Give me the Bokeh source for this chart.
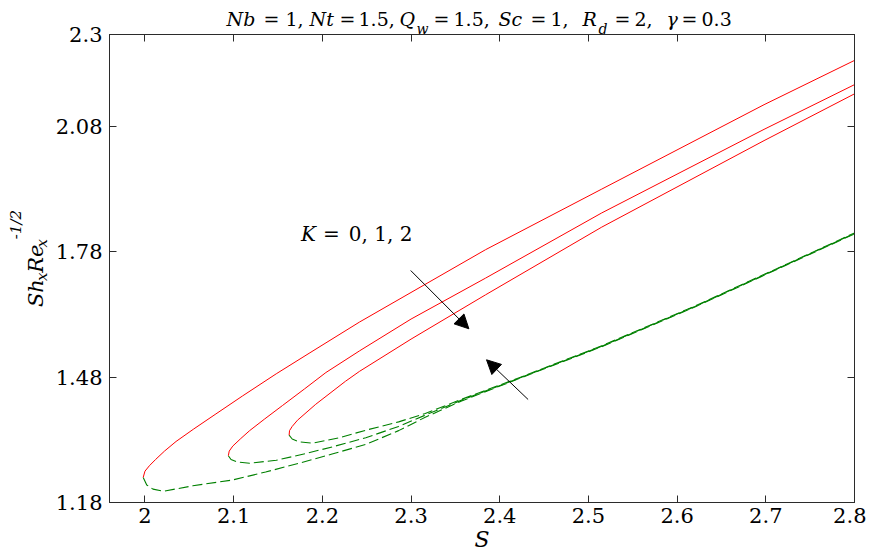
import math
from bokeh.plotting import figure
from bokeh.layouts import column, row
from bokeh.models import Range1d, FixedTicker, LinearAxis, Label, Arrow, NormalHead
from bokeh.embed import file_html
from bokeh.resources import INLINE

# ---------------- data ----------------
x_ticks = [2.0, 2.1, 2.2, 2.3, 2.4, 2.5, 2.6, 2.7, 2.8]
x_tick_labels = ["2", "2.1", "2.2", "2.3", "2.4", "2.5", "2.6", "2.7", "2.8"]
y_ticks = [1.18, 1.48, 1.78, 2.08, 2.3]
y_tick_labels = ["1.18", "1.48", "1.78", "2.08", "2.3"]

# K = 0 : first (upper, solid red) and second (lower, dashed green) branch
s_up_k0 = [1.998, 2.000, 2.005, 2.012, 2.022, 2.035, 2.055, 2.080, 2.110, 2.148, 2.185, 2.242,
           2.384, 2.515, 2.698, 2.800]
y_up_k0 = [1.240, 1.255, 1.268, 1.283, 1.303, 1.326, 1.356, 1.392, 1.435, 1.488, 1.537, 1.612,
           1.785, 1.930, 2.132, 2.238]
s_lo_k0 = [1.998, 2.002, 2.009, 2.021, 2.054, 2.099, 2.136, 2.174, 2.211, 2.249, 2.286, 2.316,
           2.357, 2.415, 2.515, 2.620, 2.724, 2.800]
y_lo_k0 = [1.240, 1.222, 1.212, 1.207, 1.220, 1.234, 1.253, 1.274, 1.296, 1.319, 1.352, 1.384,
           1.423, 1.471, 1.553, 1.648, 1.749, 1.823]

# K = 1
s_up_k1 = [2.094, 2.095, 2.099, 2.108, 2.118, 2.135, 2.155, 2.180, 2.204, 2.242, 2.300, 2.384,
           2.515, 2.698, 2.800]
y_up_k1 = [1.292, 1.303, 1.315, 1.333, 1.352, 1.380, 1.412, 1.452, 1.491, 1.543, 1.619, 1.717,
           1.873, 2.073, 2.180]
s_lo_k1 = [2.094, 2.097, 2.104, 2.118, 2.148, 2.181, 2.211, 2.249, 2.286, 2.316, 2.357, 2.415,
           2.515, 2.620, 2.724, 2.800]
y_lo_k1 = [1.292, 1.283, 1.277, 1.274, 1.281, 1.297, 1.313, 1.335, 1.362, 1.389, 1.425, 1.472,
           1.554, 1.649, 1.750, 1.824]

# K = 2
s_up_k2 = [2.1625, 2.163, 2.166, 2.172, 2.1925, 2.226, 2.242, 2.300, 2.384, 2.515, 2.698, 2.800]
y_up_k2 = [1.341, 1.352, 1.362, 1.377, 1.415, 1.470, 1.494, 1.571, 1.677, 1.839, 2.046, 2.158]
s_lo_k2 = [2.1625, 2.166, 2.174, 2.189, 2.219, 2.249, 2.286, 2.316, 2.357, 2.415, 2.515, 2.620,
           2.724, 2.800]
y_lo_k2 = [1.341, 1.332, 1.325, 1.322, 1.335, 1.353, 1.373, 1.393, 1.427, 1.473, 1.555, 1.650,
           1.751, 1.825]

# arrows (data coordinates): direction of increasing K
arrow_up_branch = (2.2996, 1.7352, 2.3652, 1.5957)
arrow_lo_branch = (2.4320, 1.4265, 2.3851, 1.5215)

# ---------------- layout (page pixels) ----------------
X0, X1 = 1.96, 2.80
Y0, Y1 = 1.18, 2.30
PAGE_W = 866
TITLE_H = 40
YLAB_W = 52
MAIN_H = 558
FL, FR, FT, FB = 107, 854, 34, 502   # plot frame edges in page pixels

FONT = "DejaVu Serif"
AX = "#2b2b2b"
RED = "#ff0000"
GREEN = "#008000"


def dx(px):
    return X0 + (px - FL) * (X1 - X0) / (FR - FL)


def dy(py):
    return Y1 - (py - FT) * (Y1 - Y0) / (FB - FT)


def add_label(fig, x, y, text, size="20px", style="normal", angle=0.0, align="left"):
    fig.add_layout(Label(x=x, y=y, text=text, text_font=FONT, text_font_size=size,
                         text_font_style=style, text_color="black", angle=angle,
                         text_align=align, text_baseline="alphabetic"))


def strip(width, height):
    f = figure(width=width, height=height, x_range=Range1d(0, width), y_range=Range1d(0, height),
               output_backend="svg", toolbar_location=None,
               x_axis_location=None, y_axis_location=None, min_border=0)
    f.outline_line_color = None
    f.background_fill_color = None
    f.border_fill_color = None
    f.grid.visible = False
    return f


# ---- main plot ----
p = figure(width=PAGE_W - YLAB_W, height=MAIN_H, x_range=Range1d(X0, X1), y_range=Range1d(Y0, Y1),
           output_backend="svg", toolbar_location=None,
           min_border_left=FL - YLAB_W, min_border_right=PAGE_W - FR,
           min_border_top=FT, min_border_bottom=MAIN_H - FB)
p.background_fill_color = "white"
p.border_fill_color = None
p.outline_line_color = AX
p.xgrid.visible = False
p.ygrid.visible = False

for ax, ticks, labels in ((p.xaxis[0], x_ticks, x_tick_labels), (p.yaxis[0], y_ticks, y_tick_labels)):
    ax.ticker = FixedTicker(ticks=ticks)
    ax.major_label_overrides = dict(zip(ticks, labels))
    ax.major_label_text_font = FONT
    ax.major_label_text_font_size = "21px"
    ax.major_label_text_color = "black"
    ax.major_tick_in = 7
    ax.major_tick_out = 0
    ax.minor_tick_line_color = None
    ax.axis_line_color = AX
    ax.major_tick_line_color = AX
p.xaxis.major_label_standoff = 5
p.yaxis.major_label_standoff = 7
p.xaxis.axis_label = "S"
p.xaxis.axis_label_text_font = FONT
p.xaxis.axis_label_text_font_style = "italic"
p.xaxis.axis_label_text_font_size = "22px"
p.xaxis.axis_label_text_color = "black"
p.xaxis.axis_label_standoff = 1

for loc, ticks in (("above", x_ticks), ("right", y_ticks)):
    box_axis = LinearAxis(ticker=FixedTicker(ticks=ticks), major_label_text_font_size="0px",
                          major_label_text_color=None, major_label_standoff=0,
                          major_tick_in=7, major_tick_out=0, minor_tick_line_color=None,
                          axis_line_color=AX, major_tick_line_color=AX)
    p.add_layout(box_axis, loc)

# curves
for s, y in ((s_lo_k0, y_lo_k0), (s_lo_k1, y_lo_k1), (s_lo_k2, y_lo_k2)):
    p.line(s, y, line_color=GREEN, line_width=1.1, line_dash="10 4")
for s, y in ((s_up_k0, y_up_k0), (s_up_k1, y_up_k1), (s_up_k2, y_up_k2)):
    p.line(s, y, line_color=RED, line_width=1)

# arrows
for xs, ys, xe, ye in (arrow_up_branch, arrow_lo_branch):
    p.add_layout(Arrow(end=NormalHead(size=14, fill_color="black", line_color="black"),
                       x_start=xs, y_start=ys, x_end=xe, y_end=ye,
                       line_color="black", line_width=1))

# K annotation
add_label(p, dx(299), dy(233), "K", style="italic")
add_label(p, dx(321), dy(233), "=")
add_label(p, dx(347), dy(233), "0, 1, 2")

# ---- title strip (overlaid on the plot's top border) ----
t = strip(PAGE_W, TITLE_H)
t.margin = (0, 0, -TITLE_H, 0)
TB, SB = 18, 28   # baselines (page y) of main text and subscripts
M, SS = "19px", "14px"
title_parts = [
    ("Nb", 226, TB, M, "italic"), ("=", 263, TB, M, "normal"), ("1,", 285, TB, M, "normal"),
    ("Nt", 309, TB, M, "italic"), ("=", 339, TB, M, "normal"), ("1.5,", 358, TB, M, "normal"),
    ("Q", 399, TB, M, "italic"), ("w", 416, SB, SS, "italic"),
    ("=", 433, TB, M, "normal"), ("1.5,", 453, TB, M, "normal"),
    ("Sc", 498, TB, M, "italic"), ("=", 530, TB, M, "normal"), ("1,", 550, TB, M, "normal"),
    ("R", 582, TB, M, "italic"), ("d", 598, SB, SS, "italic"),
    ("=", 614, TB, M, "normal"), ("2,", 634, TB, M, "normal"),
    ("\u03b3", 666, TB, M, "italic"), ("=", 681, TB, M, "normal"), ("0.3", 701, TB, M, "normal"),
]
for text, px, py, size, style in title_parts:
    add_label(t, px, TITLE_H - py, text, size=size, style=style)

# ---- y label strip (rotated) ----
yl = strip(YLAB_W, MAIN_H)
A = math.pi / 2
ylab_parts = [
    ("Sh", 35, 325, "21px"), ("x", 41, 294, "15px"),
    ("Re", 35, 284, "21px"), ("x", 41, 254, "15px"),
    ("-1/2", 15, 244, "15px"),
]
for text, px, py, size in ylab_parts:
    add_label(yl, px, MAIN_H - py, text, size=size, style="italic", angle=A)

layout = column(t, row(yl, p))
open("out.html", "w").write(file_html(layout, INLINE))
